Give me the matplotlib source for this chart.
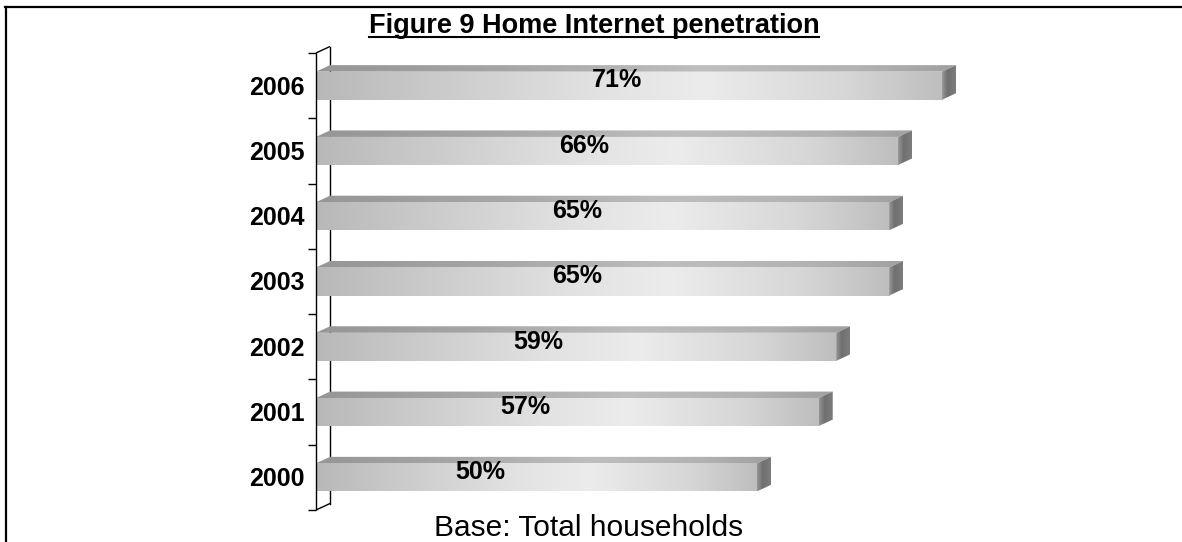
import numpy as np
import matplotlib
matplotlib.use("Agg")
import matplotlib.pyplot as plt
from matplotlib.patches import Polygon
from matplotlib.lines import Line2D

# Home Internet penetration by year (% of households)
years = ["2000", "2001", "2002", "2003", "2004", "2005", "2006"]
penetration = [50, 57, 59, 65, 65, 66, 71]
value_labels = ["50%", "57%", "59%", "65%", "65%", "66%", "71%"]
title_text = "Figure 9 Home Internet penetration"
base_text = "Base: Total households"

W, H = 1182, 542
DPI = 100
plt.rcParams["font.family"] = ["Liberation Sans", "DejaVu Sans"]

fig = plt.figure(figsize=(W / DPI, H / DPI), dpi=DPI)
fig.patch.set_facecolor("white")

# plot area in pixels
px_left, px_top, px_bottom = 316, 53, 510
px_per_unit = 8.82
xmax = 90
ax = fig.add_axes([px_left / W, (H - px_bottom) / H,
                   xmax * px_per_unit / W, (px_bottom - px_top) / H])
ax.set_xlim(0, xmax)
ax.set_ylim(-0.5, len(years) - 0.5)
ax.axis("off")

cat_px = (px_bottom - px_top) / len(years)
dx = 14 / px_per_unit          # depth offset in x (data units)
dy = 6.5 / cat_px              # depth offset in y (data units)
bar_h = 28 / cat_px            # front face height


def gray_ramp(stops, n=256):
    pos = np.array([s[0] for s in stops])
    val = np.array([s[1] for s in stops]) / 255.0
    g = np.interp(np.linspace(0, 1, n), pos, val)
    return np.stack([g, g, g], axis=-1)[None, :, :]


front_grad = gray_ramp([(0, 184), (0.12, 196), (0.45, 226), (0.62, 236), (0.85, 214), (1, 190)])
top_grad = gray_ramp([(0, 150), (0.3, 166), (0.6, 190), (0.85, 178), (1, 160)])
side_grad = np.repeat(gray_ramp([(0, 150), (0.4, 112), (1, 125)]), 2, axis=0)

for i, v in enumerate(penetration):
    yb, yt = i - bar_h / 2, i + bar_h / 2
    # front face
    ax.imshow(front_grad, extent=[0, v, yb, yt], aspect="auto",
              interpolation="bilinear", zorder=3)
    # top face
    top_poly = Polygon([(0, yt), (v, yt), (v + dx, yt + dy), (dx, yt + dy)],
                       closed=True, facecolor="none", edgecolor="none",
                       transform=ax.transData)
    ax.add_patch(top_poly)
    im = ax.imshow(top_grad, extent=[0, v + dx, yt, yt + dy], aspect="auto",
                   interpolation="bilinear", zorder=3)
    im.set_clip_path(top_poly)
    # side face
    side_poly = Polygon([(v, yb), (v, yt), (v + dx, yt + dy), (v + dx, yb + dy)],
                        closed=True, facecolor="none", edgecolor="none",
                        transform=ax.transData)
    ax.add_patch(side_poly)
    im = ax.imshow(side_grad, extent=[v, v + dx, yb, yt + dy], aspect="auto",
                   interpolation="bilinear", zorder=3)
    im.set_clip_path(side_poly)
    # value label
    ax.text(0.737 * v - 18.25, i + dy * 0.8, value_labels[i], ha="center",
            va="center", fontsize=18, fontweight="bold", color="black", zorder=5)

# axis walls: front line, back line and connecting slants
y0, y1 = -0.5, len(years) - 0.5
lk = dict(color="black", lw=1.0, zorder=4, solid_capstyle="butt")
ax.plot([0, 0], [y0, y1], clip_on=False, **lk)
ax.plot([dx, dx], [y0 + dy, y1 + dy], clip_on=False, zorder=1,
        color="black", lw=1.0)
ax.plot([0, dx], [y1, y1 + dy], clip_on=False, **lk)
ax.plot([0, dx], [y0, y0 + dy], clip_on=False, **lk)
tick_len = 8 / px_per_unit
for k in range(len(years) + 1):
    yk = -0.5 + k
    ax.plot([-tick_len, 0], [yk, yk], clip_on=False, **lk)

# year labels
for i, yr in enumerate(years):
    ax.text(-11 / px_per_unit, i - 2 / cat_px, yr, ha="right", va="center",
            fontsize=18, fontweight="bold", color="black")

# title with underline
t = fig.text(594 / W, 1 - 26 / H, title_text, ha="center", va="center",
             fontsize=19.5, fontweight="bold")
fig.canvas.draw()
bb = t.get_window_extent()
uy = 1 - 37 / H
fig.add_artist(Line2D([bb.x0 / W, bb.x1 / W], [uy, uy], color="black",
                      lw=1.5, transform=fig.transFigure))

fig.text(589 / W, 1 - 528 / H, base_text, ha="center", va="center",
         fontsize=21.5)

# outer frame (top and left edges)
fig.add_artist(Line2D([5 / W, 1.0], [1 - 6.5 / H, 1 - 6.5 / H], color="black",
                      lw=1.6, transform=fig.transFigure))
fig.add_artist(Line2D([5.5 / W, 5.5 / W], [0, 1 - 6.5 / H], color="black",
                      lw=1.6, transform=fig.transFigure))

fig.savefig("out.png", dpi=DPI, facecolor="white")
